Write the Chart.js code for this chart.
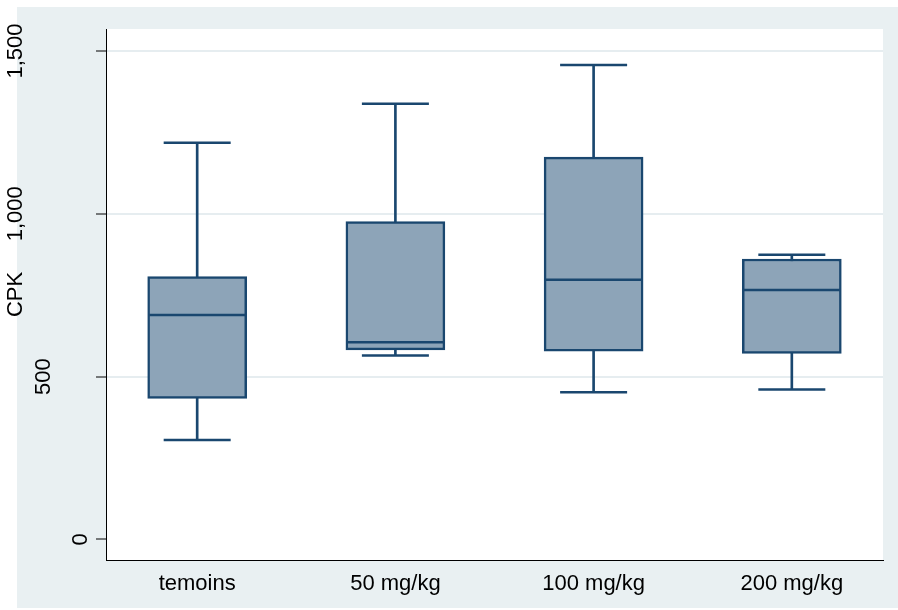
<!DOCTYPE html>
<html>
<head>
<meta charset="utf-8">
<title>CPK</title>
<script src="https://cdn.jsdelivr.net/npm/chart.js@4.4.1/dist/chart.umd.min.js"></script>
<style>
  html, body { margin: 0; padding: 0; background: #fff; }
</style>
</head>
<body>
<canvas id="cpkChart" width="898" height="610"></canvas>
<script>
// values
const groups = ["temoins", "50 mg/kg", "100 mg/kg", "200 mg/kg"];
const lowWhisker = [305, 565, 452, 460];
const q1 = [433, 582, 578, 571];
const medians = [689, 605, 797, 766];
const q3 = [807, 976, 1174, 861];
const highWhisker = [1218, 1338, 1457, 874];
const yTicks = [0, 500, 1000, 1500];

// colours
const navy = "#1A476F";
const boxFill = "#8DA4B8";
const regionColor = "#E9F0F2";
const gridColor = "#E6EDF0";
const fontFamily = '"Liberation Sans", Arial, Helvetica, sans-serif';

// grey outer region + white plot region
const backgroundPlugin = {
  id: "background",
  beforeDraw(chart) {
    const { ctx, chartArea } = chart;
    ctx.save();
    ctx.fillStyle = regionColor;
    ctx.fillRect(17, 7, chart.width - 17, chart.height - 9);
    ctx.fillStyle = "#fff";
    ctx.fillRect(chartArea.left, chartArea.top, chartArea.right - chartArea.left, chartArea.bottom - chartArea.top);
    ctx.restore();
  },
};

// rotated y tick labels (stata puts longer labels further from the axis)
const yTickLabels = {
  id: "yTickLabels",
  afterDraw(chart) {
    const { ctx } = chart;
    const y = chart.scales.y;
    ctx.save();
    ctx.font = "22px " + fontFamily;
    ctx.fillStyle = "#000";
    ctx.textAlign = "center";
    ctx.textBaseline = "middle";
    yTicks.forEach((v) => {
      const label = v.toLocaleString("en-US");
      const w = ctx.measureText(label).width;
      ctx.save();
      ctx.translate(99 - 1.5 * w, y.getPixelForValue(v));
      ctx.rotate(-Math.PI / 2);
      ctx.fillText(label, 0, 0);
      ctx.restore();
    });
    ctx.restore();
  },
};

const boxes = groups.map((g, i) => ({ x: i, y: [q1[i], q3[i]] }));
const whiskers = groups.map((g, i) => ({ x: i, y: [lowWhisker[i], highWhisker[i]] }));
const caps = [];
groups.forEach((g, i) => {
  caps.push({ x: i, y: lowWhisker[i] });
  caps.push({ x: i, y: highWhisker[i] });
});
const medianPoints = groups.map((g, i) => ({ x: i, y: medians[i] }));

const ctx = document.getElementById("cpkChart").getContext("2d");
const cpkChart = new Chart(ctx, {
  type: "bar",
  data: {
    datasets: [
      {
        label: "whiskers",
        data: whiskers,
        backgroundColor: navy,
        borderWidth: 0,
        barThickness: 2,
        grouped: false,
        order: 3,
      },
      {
        label: "boxes",
        data: boxes,
        backgroundColor: boxFill,
        borderColor: navy,
        borderWidth: 2.5,
        borderSkipped: false,
        barThickness: 99,
        grouped: false,
        order: 2,
      },
      {
        type: "scatter",
        label: "caps",
        data: caps,
        pointStyle: "line",
        pointRadius: 33.5,
        pointHoverRadius: 33.5,
        pointBorderColor: navy,
        pointBorderWidth: 2.5,
        order: 1,
      },
      {
        type: "scatter",
        label: "medians",
        data: medianPoints,
        pointStyle: "line",
        pointRadius: 48,
        pointHoverRadius: 48,
        pointBorderColor: navy,
        pointBorderWidth: 2.5,
        order: 0,
      },
    ],
  },
  options: {
    responsive: false,
    devicePixelRatio: 1,
    animation: false,
    events: [],
    layout: { autoPadding: false, padding: { top: 29, right: 15, left: 0, bottom: 0 } },
    plugins: {
      legend: { display: false },
      tooltip: { enabled: false },
    },
    scales: {
      x: {
        type: "linear",
        offset: false,
        min: -0.46,
        max: 3.46,
        afterBuildTicks: (scale) => {
          scale.ticks = groups.map((g, i) => ({ value: i }));
        },
        afterFit: (scale) => {
          scale.height = 50;
          scale.paddingLeft = 0;
          scale.paddingRight = 0;
        },
        ticks: {
          callback: (value) => groups[value] ?? "",
          font: { family: fontFamily, size: 22 },
          color: "#000",
          padding: 11,
          autoSkip: false,
          maxRotation: 0,
        },
        grid: { display: false, drawTicks: false },
        border: { display: true, color: "#000", width: 1 },
      },
      y: {
        min: -63.6,
        max: 1567.7,
        afterBuildTicks: (scale) => {
          scale.ticks = yTicks.map((v) => ({ value: v }));
        },
        afterFit: (scale) => {
          scale.width = 106;
          scale.paddingTop = 0;
          scale.paddingBottom = 0;
        },
        ticks: { display: false },
        grid: {
          color: (c) => (c.tick && c.tick.value === 0 ? "rgba(0,0,0,0)" : gridColor),
          lineWidth: 2,
          tickColor: "#000",
          tickLength: 10,
          tickWidth: 1,
        },
        border: { display: true, color: "#000", width: 1 },
        title: {
          display: true,
          text: "CPK",
          font: { family: fontFamily, size: 22 },
          color: "#000",
          padding: { top: 3, bottom: 0 },
        },
      },
    },
  },
  plugins: [backgroundPlugin, yTickLabels],
});
</script>
</body>
</html>
